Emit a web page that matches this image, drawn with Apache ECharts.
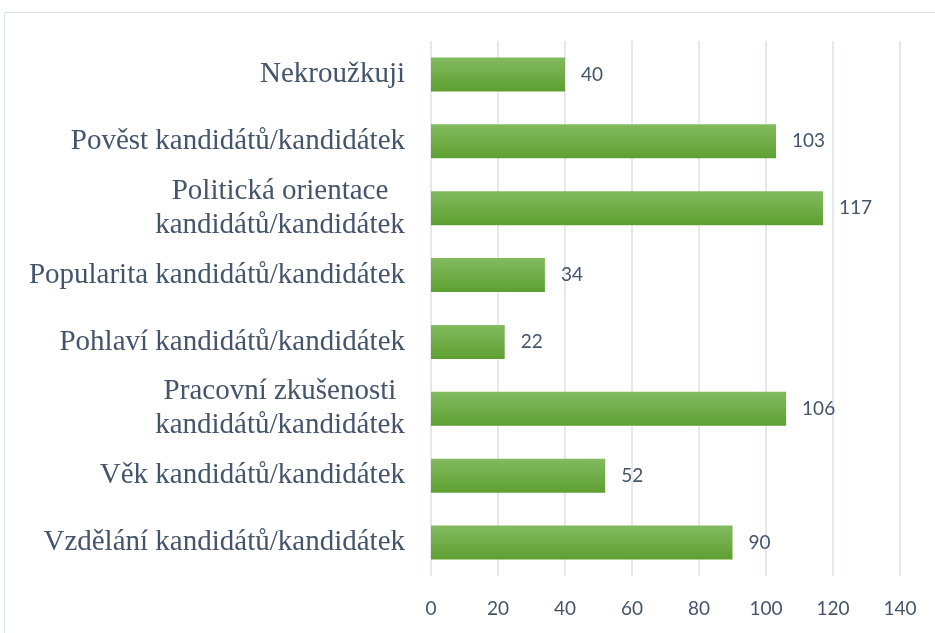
<!DOCTYPE html>
<html>
<head>
<meta charset="utf-8">
<script src="https://cdn.jsdelivr.net/npm/echarts@6/dist/echarts.min.js"></script>
<style>
  html, body { margin: 0; padding: 0; background: #fff; }
  #chart { width: 935px; height: 633px; }
</style>
</head>
<body>
<div id="chart"></div>
<script>
// kategorie odspodu nahoru (jako v grafu)
var categories = [
    'Vzdělání kandidátů/kandidátek',
    'Věk kandidátů/kandidátek',
    'Pracovní zkušenosti\nkandidátů/kandidátek',
    'Pohlaví kandidátů/kandidátek',
    'Popularita kandidátů/kandidátek',
    'Politická orientace\nkandidátů/kandidátek',
    'Pověst kandidátů/kandidátek',
    'Nekroužkuji'
];
var counts = [90, 52, 106, 22, 34, 117, 103, 40];
var xTicks = [0, 20, 40, 60, 80, 100, 120, 140];

var catSize = 29;
var textColor = '#44546a';

// sirka textu, aby se dvouradkove popisky daly vystredit
var ctx = document.createElement('canvas').getContext('2d');
ctx.font = catSize + 'px "Liberation Serif"';
function textWidth(s) { return Math.ceil(ctx.measureText(s).width); }

var chart = echarts.init(document.getElementById('chart'));

var option = {
    animation: false,
    graphic: [{
        type: 'rect',
        shape: { x: 4.5, y: 12.5, width: 1000, height: 1000 },
        style: { fill: 'none', stroke: '#dde2e8', lineWidth: 1 },
        silent: true
    }],
    grid: {
        left: 431,
        right: 35,
        top: 41,
        bottom: 57
    },
    xAxis: {
        type: 'value',
        min: xTicks[0],
        max: xTicks[xTicks.length - 1],
        interval: 20,
        axisLine: { show: false },
        axisTick: { show: false },
        splitLine: { lineStyle: { color: '#dde2ea', width: 1.5 } },
        axisLabel: {
            color: textColor,
            fontFamily: 'Lato',
            fontSize: 19,
            margin: 23
        }
    },
    yAxis: {
        type: 'category',
        data: categories,
        axisLine: { show: false },
        axisTick: { show: false },
        axisLabel: {
            margin: 26,
            color: textColor,
            fontFamily: 'Liberation Serif',
            fontSize: catSize,
            lineHeight: 34,
            formatter: function (val) {
                var lines = val.split('\n');
                if (lines.length < 2) return val;
                return lines.map(function (l) { return '{c|' + l + '}'; }).join('\n');
            },
            rich: {
                c: {
                    width: Math.max(textWidth('Politická orientace'), textWidth('kandidátů/kandidátek')),
                    align: 'center',
                    color: textColor,
                    fontFamily: 'Liberation Serif',
                    fontSize: catSize,
                    lineHeight: 34
                }
            }
        }
    },
    series: [{
        type: 'bar',
        data: counts,
        barWidth: '51%',
        itemStyle: {
            color: new echarts.graphic.LinearGradient(0, 0, 0, 1, [
                { offset: 0, color: '#83bb60' },
                { offset: 1, color: '#5e9f31' }
            ])
        },
        label: {
            show: true,
            position: 'right',
            distance: 16,
            color: textColor,
            fontFamily: 'Lato',
            fontSize: 19
        }
    }]
};

chart.setOption(option);
</script>
</body>
</html>
